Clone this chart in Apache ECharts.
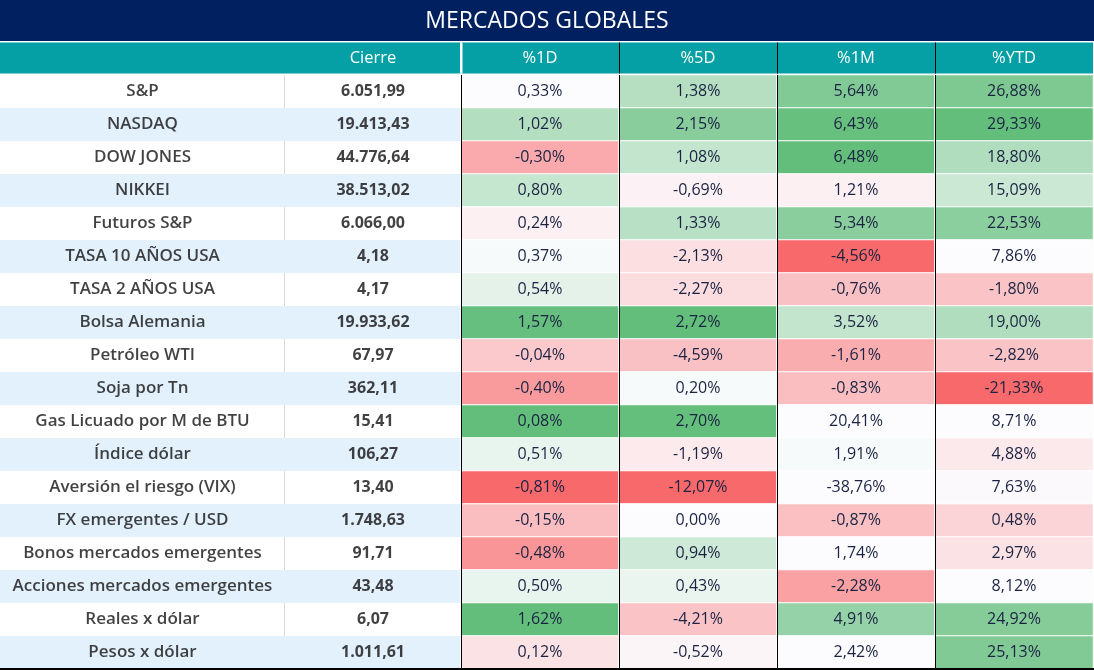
<!DOCTYPE html>
<html>
<head>
<meta charset="utf-8">
<script src="https://cdn.jsdelivr.net/npm/echarts@6/dist/echarts.min.js"></script>
<style>
html,body{margin:0;padding:0;background:#ffffff;}
#chart{width:1094px;height:670px;}
</style>
</head>
<body>
<div id="chart"></div>
<script>
// ---------- data ----------
const titleText = 'MERCADOS GLOBALES';
const names = ['S&P','NASDAQ','DOW JONES','NIKKEI','Futuros S&P','TASA 10 AÑOS USA','TASA 2 AÑOS USA','Bolsa Alemania','Petróleo WTI','Soja por Tn','Gas Licuado por M de BTU','Índice dólar','Aversión el riesgo (VIX)','FX emergentes / USD','Bonos mercados emergentes','Acciones mercados emergentes','Reales x dólar','Pesos x dólar'];
const closeHeader = ['Cierre'];
const cierre = [6051.99,19413.43,44776.64,38513.02,6066.00,4.18,4.17,19933.62,67.97,362.11,15.41,106.27,13.40,1748.63,91.71,43.48,6.07,1011.61];
const pctCols = ['%1D','%5D','%1M','%YTD'];
const pct1D  = [0.33,1.02,-0.30,0.80,0.24,0.37,0.54,1.57,-0.04,-0.40,0.08,0.51,-0.81,-0.15,-0.48,0.50,1.62,0.12];
const pct5D  = [1.38,2.15,1.08,-0.69,1.33,-2.13,-2.27,2.72,-4.59,0.20,2.70,-1.19,-12.07,0.00,0.94,0.43,-4.21,-0.52];
const pct1M  = [5.64,6.43,6.48,1.21,5.34,-4.56,-0.76,3.52,-1.61,-0.83,20.41,1.91,-38.76,-0.87,1.74,-2.28,4.91,2.42];
const pctYTD = [26.88,29.33,18.80,15.09,22.53,7.86,-1.80,19.00,-2.82,-21.33,8.71,4.88,7.63,0.48,2.97,8.12,24.92,25.13];
// conditional-format level (-1 = full red, 0 = white, 1 = full green)
const heat1D  = [0.00,0.48,-0.56,0.36,-0.08,0.04,0.16,0.98,-0.35,-0.66,1.00,0.13,-1.00,-0.42,-0.70,0.13,1.00,-0.18];
const heat5D  = [0.46,0.76,0.37,-0.07,0.45,-0.20,-0.21,1.00,-0.40,0.04,0.99,-0.12,-1.00,0.00,0.30,0.12,-0.38,-0.05];
const heat1M  = [0.80,0.97,1.00,-0.08,0.74,-1.00,-0.40,0.37,-0.54,-0.42,0.00,0.04,0.00,-0.41,0.00,-0.62,0.67,0.00];
const heatYTD = [0.83,1.00,0.50,0.32,0.73,-0.01,-0.39,0.50,-0.38,-1.00,0.00,-0.13,-0.02,-0.27,-0.18,-0.01,0.78,0.80];

// ---------- helpers ----------
const FONT = "'Open Sans','Noto Sans','Lato',sans-serif";
function fmtNum(v){
  const s = Math.abs(v).toFixed(2).split('.');
  const intPart = s[0].replace(/\B(?=(\d{3})+(?!\d))/g, '.');
  return (v < 0 ? '-' : '') + intPart + ',' + s[1];
}
function fmtPct(v){ return fmtNum(v) + '%'; }

const pctData = [pct1D, pct5D, pct1M, pctYTD];
const heatData = [heat1D, heat5D, heat1M, heatYTD];
const cells = [];
pctData.forEach((col, c) => {
  col.forEach((v, r) => { cells.push([c, r, heatData[c][r], v]); });
});

const chart = echarts.init(document.getElementById('chart'), null, {renderer:'canvas'});

const W = 1094, H = 670;
const top0 = 75, bodyH = 594;
const commonY = (i) => ({
  type:'category', gridIndex:i, data:names, inverse:true,
  axisLine:{show:false}, axisTick:{show:false}, axisLabel:{show:false}
});

const option = {
  animation:false,
  backgroundColor:'#ffffff',
  title:{
    text:titleText, left:'center', top:5,
    textStyle:{color:'#ffffff', fontSize:23, fontWeight:'normal', fontFamily:FONT}
  },
  graphic:[
    {type:'rect', z:-5, shape:{x:0, y:0, width:W, height:41}, style:{fill:'#002060'}},
    {type:'rect', z:-5, shape:{x:0, y:42.5, width:1093, height:31}, style:{fill:'#04A0A5'}},
    {type:'rect', z:-4, shape:{x:460, y:42.5, width:2.5, height:31}, style:{fill:'#ffffff'}},
    {type:'line', z:-4, shape:{x1:619.5, y1:42.5, x2:619.5, y2:73.5}, style:{stroke:'#000000', lineWidth:1}},
    {type:'line', z:-4, shape:{x1:777.5, y1:42.5, x2:777.5, y2:73.5}, style:{stroke:'#000000', lineWidth:1}},
    {type:'line', z:-4, shape:{x1:935.5, y1:42.5, x2:935.5, y2:73.5}, style:{stroke:'#000000', lineWidth:1}},
    {type:'line', z:-1, shape:{x1:284.5, y1:top0, x2:284.5, y2:top0+bodyH}, style:{stroke:'#d9d9d9', lineWidth:1}},
    {type:'line', z:20, shape:{x1:0, y1:669, x2:W, y2:669}, style:{stroke:'#000000', lineWidth:2}}
  ],
  grid:[
    {left:0, top:top0, width:285, height:bodyH},
    {left:285, top:top0, width:176, height:bodyH},
    {left:461, top:top0, width:632, height:bodyH}
  ],
  xAxis:[
    {type:'category', gridIndex:0, data:[''], position:'top',
     axisLine:{show:false}, axisTick:{show:false}, axisLabel:{show:false}},
    {type:'category', gridIndex:1, data:closeHeader, position:'top',
     axisLine:{show:false}, axisTick:{show:false},
     axisLabel:{color:'#ffffff', fontSize:16.5, fontFamily:FONT, margin:8}},
    {type:'category', gridIndex:2, data:pctCols, position:'top', z:12,
     axisLine:{show:false}, axisTick:{show:false},
     axisLabel:{color:'#ffffff', fontSize:16.5, fontFamily:FONT, margin:8},
     splitLine:{show:true, interval:0, showMaxLine:false, lineStyle:{color:'#000000', width:1}}}
  ],
  yAxis:[
    Object.assign(commonY(0), {splitArea:{show:true, interval:0, areaStyle:{color:['rgba(255,255,255,0)','#e3f1fc']}}}),
    Object.assign(commonY(1), {splitArea:{show:true, interval:0, areaStyle:{color:['rgba(255,255,255,0)','#e3f1fc']}}}),
    commonY(2)
  ],
  visualMap:[{
    show:false, type:'continuous', min:-1, max:1, dimension:2, seriesIndex:2,
    inRange:{color:['#F8696B','#FCFCFF','#63BE7B']}
  }],
  series:[
    {
      type:'scatter', xAxisIndex:0, yAxisIndex:0, symbolSize:1, silent:true,
      itemStyle:{color:'rgba(0,0,0,0)'},
      data:names.map((n, i) => [0, i]),
      label:{show:true, position:'inside', formatter:(p) => names[p.dataIndex],
        color:'#111111', fontSize:17, fontFamily:FONT, fontWeight:600}
    },
    {
      type:'scatter', xAxisIndex:1, yAxisIndex:1, symbolSize:1, silent:true,
      itemStyle:{color:'rgba(0,0,0,0)'},
      data:cierre.map((v, i) => [0, i]),
      label:{show:true, position:'inside', formatter:(p) => fmtNum(cierre[p.dataIndex]),
        color:'#111111', fontSize:16, fontFamily:FONT, fontWeight:700}
    },
    {
      type:'heatmap', xAxisIndex:2, yAxisIndex:2, silent:true, z:2,
      data:cells,
      itemStyle:{borderColor:'#ffffff', borderWidth:1},
      label:{show:true, formatter:(p) => fmtPct(p.value[3]),
        color:'#1b2342', fontSize:16, fontFamily:FONT, fontWeight:500},
      emphasis:{disabled:true}
    }
  ]
};
chart.setOption(option);
</script>
</body>
</html>
